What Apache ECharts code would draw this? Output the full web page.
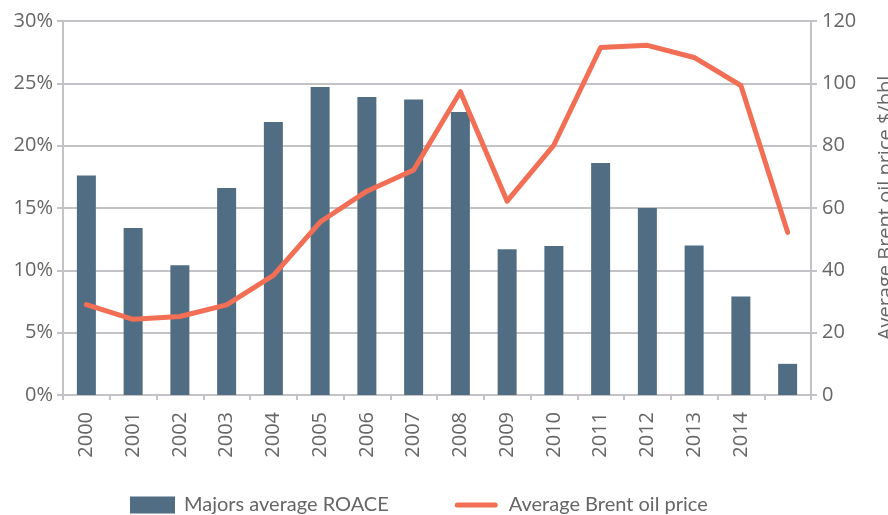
<!DOCTYPE html>
<html>
<head>
<meta charset="utf-8">
<script src="https://cdn.jsdelivr.net/npm/echarts@6/dist/echarts.min.js"></script>
<style>
  html, body { margin: 0; padding: 0; background: #fff; }
  #container { width: 888px; height: 515px; }
</style>
</head>
<body>
<div id="container"></div>
<script>
var years = ['2000', '2001', '2002', '2003', '2004', '2005', '2006', '2007',
             '2008', '2009', '2010', '2011', '2012', '2013', '2014', ''];
var roace = [17.6, 13.4, 10.4, 16.6, 21.9, 24.7, 23.9, 23.7,
             22.7, 11.7, 11.95, 18.6, 15.0, 12.0, 7.9, 2.5];
var brent = [29.0, 24.3, 25.2, 28.9, 38.4, 55.5, 65.4, 72.2,
             97.3, 62.2, 80.2, 111.5, 112.2, 108.3, 99.3, 52.2];

var gridColor = '#c3c3c7';
var textColor = '#666666';
var axisFont = '"Open Sans", sans-serif';
var legendFont = 'Lato, sans-serif';

// thick short line for the legend, padded to the same box as the bar swatch
var lineIcon = 'path://M0,0L0.01,0L0,0.01Z M2.5,6A2.5,2.5 0 0 0 2.5,11L40.5,11A2.5,2.5 0 0 0 40.5,6Z M45,17L44.99,17L45,16.99Z';

var chart = echarts.init(document.getElementById('container'));

var option = {
    animation: false,
    textStyle: { fontFamily: axisFont },
    grid: {
        left: 63,
        right: 77,
        top: 21,
        bottom: 120,
        containLabel: false,
        outerBoundsMode: 'none'
    },
    legend: {
        top: 490,
        left: 125,
        itemGap: 66,
        itemWidth: 45,
        itemHeight: 17,
        textStyle: { fontSize: 20, color: textColor, fontFamily: legendFont, padding: [0, 0, 0, 4] },
        data: [
            { name: 'Majors average ROACE', icon: 'rect' },
            { name: 'Average Brent oil price', icon: lineIcon }
        ]
    },
    xAxis: {
        type: 'category',
        data: years,
        axisLine: { lineStyle: { color: gridColor, width: 2 } },
        axisTick: { show: true, length: 5, lineStyle: { color: gridColor, width: 2 } },
        axisLabel: {
            rotate: 90,
            fontSize: 20,
            color: textColor,
            margin: 17,
            interval: 0
        }
    },
    yAxis: [
        {
            type: 'value',
            min: 0,
            max: 30,
            interval: 5,
            axisLine: { show: true, lineStyle: { color: gridColor, width: 2 } },
            axisTick: { show: true, length: 6, lineStyle: { color: gridColor, width: 2 } },
            splitLine: { lineStyle: { color: gridColor, width: 2 } },
            axisLabel: {
                formatter: '{value}%',
                fontSize: 20,
                color: textColor,
                margin: 10
            }
        },
        {
            type: 'value',
            min: 0,
            max: 120,
            interval: 20,
            position: 'right',
            name: 'Average Brent oil price $/bbl',
            nameLocation: 'middle',
            nameRotate: 90,
            nameGap: 65,
            nameTextStyle: { fontSize: 20, color: textColor },
            axisLine: { show: true, lineStyle: { color: gridColor, width: 2 } },
            axisTick: { show: true, length: 6, lineStyle: { color: gridColor, width: 2 } },
            splitLine: { show: false },
            axisLabel: {
                fontSize: 20,
                color: textColor,
                margin: 11
            }
        }
    ],
    series: [
        {
            name: 'Majors average ROACE',
            type: 'bar',
            yAxisIndex: 0,
            barWidth: 19,
            itemStyle: { color: '#516d84' },
            data: roace
        },
        {
            name: 'Average Brent oil price',
            type: 'line',
            yAxisIndex: 1,
            symbol: 'none',
            lineStyle: { color: '#f26e55', width: 5, cap: 'round', join: 'round' },
            itemStyle: { color: '#f26e55' },
            data: brent
        }
    ]
};

chart.setOption(option);
</script>
</body>
</html>
